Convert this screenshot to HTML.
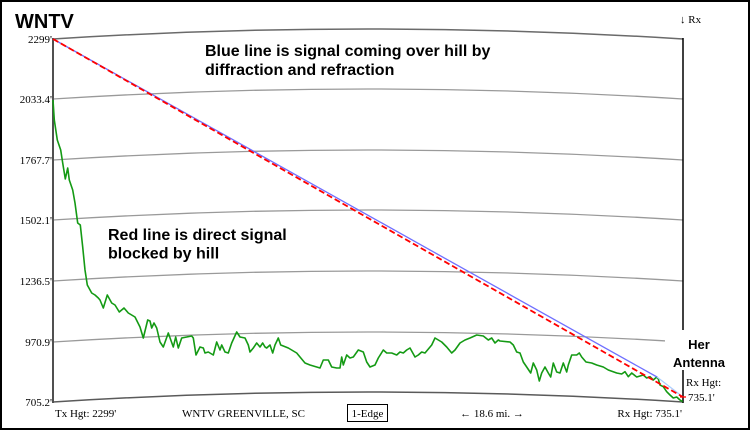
<!DOCTYPE html>
<html>
<head>
<meta charset="utf-8">
<style>
html,body{margin:0;padding:0;background:#fff;}
svg{display:block;}
.ser{font-family:"Liberation Serif","Times New Roman",serif;font-size:11px;fill:#000;}
.bold{font-family:"Liberation Sans",Arial,sans-serif;font-weight:bold;fill:#000;}
</style>
</head>
<body>
<svg width="750" height="431" viewBox="0 0 750 431" xmlns="http://www.w3.org/2000/svg">
<rect x="0" y="0" width="750" height="431" fill="#fff"/>
<rect x="1" y="1" width="748" height="428" fill="none" stroke="#000" stroke-width="2"/>

<!-- curved grid lines -->
<g fill="none">
<path d="M53,39 Q368,19 683,39" stroke="#6a6a6a" stroke-width="1.5"/>
<path d="M53,99 Q368,79 683,99" stroke="#9a9a9a" stroke-width="1.3"/>
<path d="M53,160 Q368,140 683,160" stroke="#9a9a9a" stroke-width="1.3"/>
<path d="M53,220 Q368,200 683,220" stroke="#9a9a9a" stroke-width="1.3"/>
<path d="M53,281 Q368,261 683,281" stroke="#9a9a9a" stroke-width="1.3"/>
<path d="M53,342 Q368,322 683,342" stroke="#9a9a9a" stroke-width="1.3"/>
<path d="M53,402 Q368,382 683,402" stroke="#5a5a5a" stroke-width="1.5"/>
</g>

<!-- axes -->
<line x1="53" y1="38" x2="53" y2="403" stroke="#505050" stroke-width="2"/>
<line x1="683" y1="38" x2="683" y2="403" stroke="#000" stroke-width="1.5"/>

<!-- terrain -->
<polyline fill="none" stroke="#149a14" stroke-width="1.6" stroke-linejoin="round" points="53,100 54.3,120 57.3,140 60.7,150 62.7,163 65.3,179 67.7,168 69.3,180 72.7,190 75,203 77.7,223 80.3,225 82.7,247 85,270 87.3,285 91.7,293 95,295 98.3,298 100,300 103.3,308 107.3,295 111.7,303 115,305 119.3,312 124,308 128.3,313 135,317 140,327 143.3,338 147.7,320 150,321 151.7,328 154,323 156.7,328 160,342 163.3,347 168.3,333 173.3,347 175.7,337 178.3,348 181.7,338 186.7,337 191.7,336 193.3,338 196,355 200,347 203.3,348 205,353 208.3,352 213.3,355 216.7,342 220,350 221.7,345 225,352 228.3,353 231.7,343 236.7,332 240,337 245,338 248.3,345 250,352 253.3,348 256.7,343 260,347 262.7,343 265,347 266.7,348 270,345 272.7,353 275,345 278.3,338 280.7,345 283.3,346 288.3,348 296.7,353 300,357 305,363 310,365 316.7,367 320,368 323.3,360 328.3,360 331.7,367 336.7,368 340,368 341.7,357 343.3,365 346.7,355 350,358 353.3,357 358.3,350 363.3,352 366.7,362 370,367 375,365 378.3,358 383.3,350 386.7,353 391.7,353 396.7,355 400,352 403.3,353 406.7,350 410,348 415,357 418.3,355 421.7,352 425,353 431.7,345 435,338 441.7,342 446.7,347 451.7,353 455,350 460,343 465,340 470,338 476.7,335 483.3,336 488.3,340 491.7,338 495,343 498.3,340 500,341 510,342 513.3,345 516.7,352 520,353 523.3,362 526.7,367 530.7,373 533.3,363 536.7,370 539.3,381 541.7,373 545,367 548.3,373 550.7,377 553.3,363 556.7,372 560,373 563.3,363 566.7,372 568.3,365 571.7,355 576.7,355 579.3,353 581.7,357 586,362 591.7,363 596.7,365 603.3,367 608.3,370 616.7,373 621.7,374 625,371.7 628.3,376.7 631.7,373 636.7,377 643.3,375 646.7,378 650,376.7 653.3,380 656.7,377 658.3,379 660,385 663.3,386.7 666.7,391.7 670,395 673.3,398 676.7,397 680,400 682.7,401.7"/>

<!-- signal lines -->
<line x1="657" y1="377" x2="683" y2="397" stroke="#a8ccff" stroke-width="1.2"/>
<line x1="53" y1="39" x2="657" y2="377" stroke="#6f6fff" stroke-width="1.3"/>
<line x1="53" y1="39" x2="683" y2="397" stroke="#ff0000" stroke-width="1.8" stroke-dasharray="6,3"/>

<!-- Her Antenna box -->
<rect x="665" y="330" width="72" height="40" fill="#fff"/>
<text class="bold" x="699" y="349" font-size="13" text-anchor="middle">Her</text>
<text class="bold" x="699" y="367" font-size="13" text-anchor="middle">Antenna</text>
<line x1="680" y1="397" x2="686" y2="397" stroke="#ff0000" stroke-width="1.3"/>
<text class="ser" x="686" y="386">Rx Hgt:</text>
<text class="ser" x="688" y="401">735.1'</text>

<!-- y labels -->
<g class="ser" text-anchor="end">
<text x="52" y="43">2299'</text>
<text x="52" y="103">2033.4'</text>
<text x="52" y="164">1767.7'</text>
<text x="52" y="224">1502.1'</text>
<text x="52" y="285">1236.5'</text>
<text x="52" y="346">970.9'</text>
<text x="52" y="406">705.2'</text>
</g>

<!-- title & annotations -->
<text class="bold" x="15" y="28" font-size="20">WNTV</text>
<text class="ser" x="680" y="23">↓ Rx</text>
<text class="bold" x="205" y="56" font-size="16">Blue line is signal coming over hill by</text>
<text class="bold" x="205" y="75" font-size="16">diffraction and refraction</text>
<text class="bold" x="108" y="240" font-size="16">Red line is direct signal</text>
<text class="bold" x="108" y="258.5" font-size="16">blocked by hill</text>

<!-- bottom labels -->
<text class="ser" x="55" y="417">Tx Hgt: 2299'</text>
<text class="ser" x="182" y="417">WNTV GREENVILLE, SC</text>
<rect x="347.5" y="404.5" width="40" height="17" fill="none" stroke="#000" stroke-width="1"/>
<text class="ser" x="367.5" y="417" text-anchor="middle">1-Edge</text>
<text class="ser" x="492" y="417" text-anchor="middle">← 18.6 mi. →</text>
<text class="ser" x="682" y="417" text-anchor="end">Rx Hgt: 735.1'</text>
</svg>
</body>
</html>
